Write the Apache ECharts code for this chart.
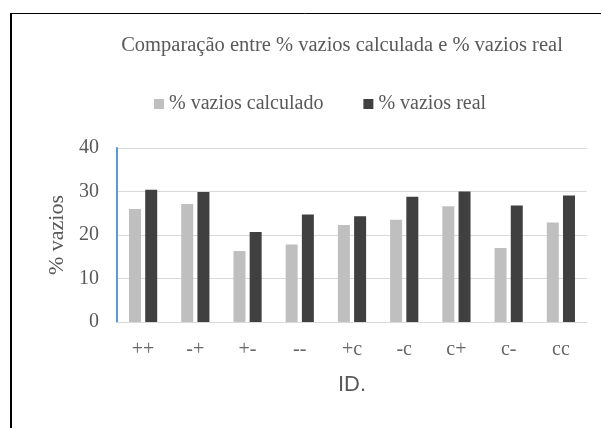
<!DOCTYPE html>
<html><head><meta charset="utf-8">
<script src="https://cdn.jsdelivr.net/npm/echarts@6/dist/echarts.min.js"></script>
<style>html,body{margin:0;padding:0;background:#fff}#c{width:603px;height:428px}</style>
</head><body><div id="c"></div>
<script>
const categories = ['++','-+','+-','--','+c','-c','c+','c-','cc'];
const calculado = [26.0, 27.1, 16.3, 17.8, 22.3, 23.5, 26.6, 17.0, 22.9];
const real = [30.4, 29.9, 20.7, 24.7, 24.3, 28.8, 30.0, 26.8, 29.1];
const yTicks = [0, 10, 20, 30, 40];

const serif = '"Liberation Serif", "Times New Roman", serif';
const chart = echarts.init(document.getElementById('c'), null, {renderer: 'canvas'});
chart.setOption({
  backgroundColor: '#fff',
  animation: false,
  title: {
    text: 'Comparação entre % vazios calculada e % vazios real',
    left: 337, top: 30, textAlign: 'center',
    textStyle: {fontFamily: serif, fontSize: 20.5, fontWeight: 'normal', color: '#595959'}
  },
  legend: {
    top: 89, left: 149,
    itemWidth: 10, itemHeight: 10, itemGap: 40,
    icon: 'rect',
    textStyle: {fontFamily: serif, fontSize: 20, color: '#595959'},
    data: ['% vazios calculado', '% vazios real']
  },
  grid: {left: 117, right: 16, top: 148, bottom: 106, containLabel: false},
  xAxis: {
    type: 'category', data: categories,
    name: 'ID.', nameLocation: 'middle', nameGap: 52,
    nameTextStyle: {fontFamily: '"Liberation Sans", Arial, sans-serif', fontSize: 22, color: '#595959'},
    axisLine: {lineStyle: {color: '#D9D9D9', width: 1}},
    axisTick: {show: false},
    axisLabel: {fontFamily: serif, fontSize: 20, color: '#666666', margin: 18}
  },
  yAxis: {
    type: 'value', min: 0, max: 40, interval: 10,
    name: '% vazios', nameLocation: 'middle', nameGap: 48, nameRotate: 90,
    nameTextStyle: {fontFamily: serif, fontSize: 22, color: '#595959'},
    axisLine: {show: true, lineStyle: {color: '#5B9BD5', width: 2}},
    axisTick: {show: false},
    axisLabel: {fontFamily: serif, fontSize: 20, color: '#595959', margin: 18,
      formatter: v => yTicks.includes(v) ? String(v) : ''},
    splitLine: {lineStyle: {color: '#D9D9D9', width: 1}}
  },
  series: [
    {name: '% vazios calculado', type: 'bar', data: calculado, barWidth: 12, barGap: '35%',
     itemStyle: {color: '#BFBFBF'}},
    {name: '% vazios real', type: 'bar', data: real, barWidth: 12, barGap: '35%',
     itemStyle: {color: '#404040'}}
  ],
  graphic: [
    {type: 'line', shape: {x1: 10, y1: 13.5, x2: 601, y2: 13.5}, style: {stroke: '#000', lineWidth: 1}},
    {type: 'line', shape: {x1: 11, y1: 13, x2: 11, y2: 428}, style: {stroke: '#000', lineWidth: 2}}
  ]
});
</script></body></html>
